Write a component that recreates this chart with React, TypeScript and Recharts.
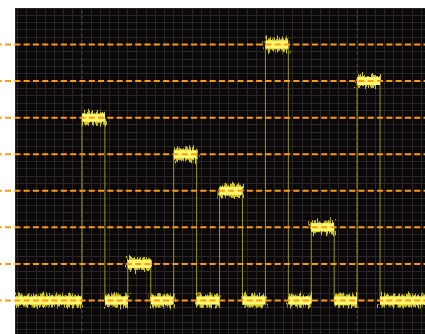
import { CartesianGrid, ComposedChart, Line, ReferenceLine, XAxis, YAxis } from "recharts";

// time axis: 1 unit = one pulse period, pulses start at integer times
const T_MIN = -1.46;
const T_MAX = 7.48;
const PULSE_START = [0, 1, 2, 3, 4, 5, 6];
const PULSE_LEVEL = [5, 1, 4, 3, 7, 2, 6];
const PULSE_WIDTH = 0.5;
const LEVEL_LINES = [0, 1, 2, 3, 4, 5, 6, 7];
const CURSORS = [0, 6];

// the full step waveform (thin edges)
const wave: { t: number; v: number }[] = [{ t: T_MIN, v: 0 }];
PULSE_START.forEach((s, i) => {
  wave.push({ t: s, v: PULSE_LEVEL[i] });
  wave.push({ t: s + PULSE_WIDTH, v: 0 });
});
wave.push({ t: T_MAX, v: 0 });

// horizontal pieces only, split by nulls so they render as separate thick bands
const bands: { t: number; v: number | null }[] = [];
for (let i = 0; i < wave.length - 1; i++) {
  bands.push({ t: wave[i].t, v: wave[i].v });
  bands.push({ t: wave[i + 1].t, v: wave[i].v });
  bands.push({ t: wave[i + 1].t, v: null });
}

// fine scope graticule: 5 minor divisions per unit
const gridX = Array.from({ length: 60 }, (_, i) => Math.round((-1.4 + i * 0.2) * 100) / 100).filter((t) => t <= T_MAX);
const gridY = Array.from({ length: 46 }, (_, i) => Math.round((-1 + i * 0.2) * 100) / 100).filter((v) => v <= 8);

export default function App() {
  return (
    <div style={{ position: "fixed", left: 0, top: 0, width: 425, height: 334, overflow: "hidden", background: "#fff" }}>
      <style>{`.recharts-cartesian-grid line { shape-rendering: crispEdges; }`}</style>
      <ComposedChart width={425} height={345} margin={{ top: 8, right: 0, bottom: 8, left: 15 }}>
        <defs>
          <filter id="fuzz" filterUnits="userSpaceOnUse" x="0" y="0" width="425" height="345">
            <feTurbulence type="fractalNoise" baseFrequency="0.7 0.1" numOctaves="2" seed="5" result="n" />
            <feDisplacementMap in="SourceGraphic" in2="n" scale="12" xChannelSelector="R" yChannelSelector="G" />
          </filter>
        </defs>
        <XAxis type="number" dataKey="t" domain={[T_MIN, T_MAX]} ticks={gridX} interval={0} hide allowDataOverflow />
        <YAxis type="number" domain={[-1, 8]} ticks={gridY} interval={0} hide allowDataOverflow />
        <CartesianGrid fill="#0b0809" fillOpacity={1} stroke="#2a2627" />
        {CURSORS.map((t) => (
          <ReferenceLine key={t} x={t} stroke="#4a4747" strokeDasharray="3 3" />
        ))}
        <Line data={wave} dataKey="v" type="stepAfter" stroke="#98941a" strokeWidth={1} dot={false} isAnimationActive={false} />
        <Line
          data={bands}
          dataKey="v"
          type="linear"
          stroke="#e2d622"
          strokeWidth={12}
          strokeOpacity={0.9}
          strokeLinecap="butt"
          filter="url(#fuzz)"
          dot={false}
          isAnimationActive={false}
        />
        <Line
          data={bands}
          dataKey="v"
          type="linear"
          stroke="#fdf870"
          strokeWidth={8}
          strokeLinecap="butt"
          dot={false}
          isAnimationActive={false}
        />
        {LEVEL_LINES.map((v) => (
          <ReferenceLine
            key={v}
            segment={[
              { x: -1.88, y: v },
              { x: T_MAX, y: v },
            ]}
            ifOverflow="visible"
            stroke="#ff9a14"
            strokeWidth={2}
            strokeDasharray="6 3.3"
          />
        ))}
      </ComposedChart>
    </div>
  );
}
